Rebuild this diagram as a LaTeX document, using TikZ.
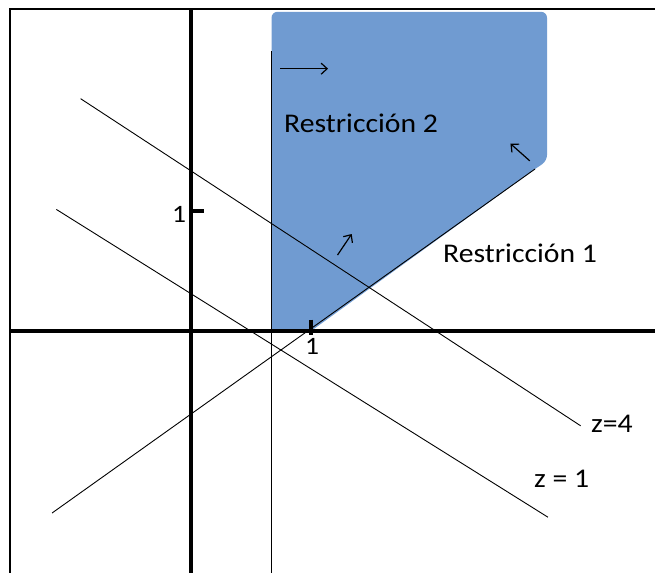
\documentclass[tikz,border=0pt]{standalone}
\usepackage{fontspec}
\setmainfont[FakeStretch=1.1]{Carlito}
\usetikzlibrary{arrows.meta}
\definecolor{regionblue}{RGB}{112,155,209}
\tikzset{
  axis/.style ={line width=4pt},
  frame/.style={line width=2.5pt},
  thinline/.style={line width=0.9pt},
  dirarrow/.style={line width=1.2pt, -{Straight Barb[length=6pt,width=11pt]}},
  lbl/.style  ={font=\fontsize{27}{30}\selectfont, inner sep=0pt, anchor=base west},
  ticklbl/.style={font=\fontsize{25}{30}\selectfont, inner sep=0pt, anchor=base}
}

\begin{document}
\begin{tikzpicture}[x=120pt, y=120pt]
  \useasboundingbox (-1.5917,-2.0167) rectangle (3.8667,2.7583);

  % feasible region
  \fill[regionblue] (0.671,0) -- (0.671,2.4) [rounded corners=6pt] -- (0.671,2.66)
       -- (2.967,2.66) -- (2.967,1.417) [sharp corners] -- (2.867,1.35) -- (1,0) -- cycle;

  % frame
  \draw[frame] (-1.508,-2.0167) -- (-1.508,2.685) -- (3.8667,2.685);

  % axes
  \coordinate (O) at (0,0);
  \draw[axis] (-1.508,0) -- (3.8667,0);
  \draw[axis] (0,-2.0167) -- (0,2.685);

  % ticks
  \draw[axis] (0,1) -- (0.11,1);
  \draw[axis] (1,0.095) -- (1,-0.03);
  \node[ticklbl] (ty) at (-0.1,0.9) {1};
  \node[ticklbl] (tx) at (1.01,-0.2) {1};

  % restriccion 2
  \draw[line width=1.4pt] (0.671,2.333) -- (0.671,-2.0167);
  % restriccion 1
  \draw[thinline] (-1.158,-1.517) -- (2.867,1.35);
  % level lines
  \draw[thinline] (-0.92,1.936) -- (3.247,-0.79);
  \draw[thinline] (-1.122,1.013) -- (2.975,-1.552);

  % directions
  \draw[dirarrow] (0.742,2.186) -- (1.142,2.186);
  \draw[dirarrow] (1.221,0.633) -- (1.339,0.808);
  \draw[dirarrow] (2.823,1.418) -- (2.662,1.561);

  % labels
  \node[lbl] (r2) at (0.775,1.65) {Restricción 2};
  \node[lbl] (r1) at (2.1,0.567) {Restricción 1};
  \node[lbl] (z4) at (3.333,-0.85) {z=4};
  \node[lbl] (z1) at (2.858,-1.308) {z = 1};
\end{tikzpicture}
\end{document}
